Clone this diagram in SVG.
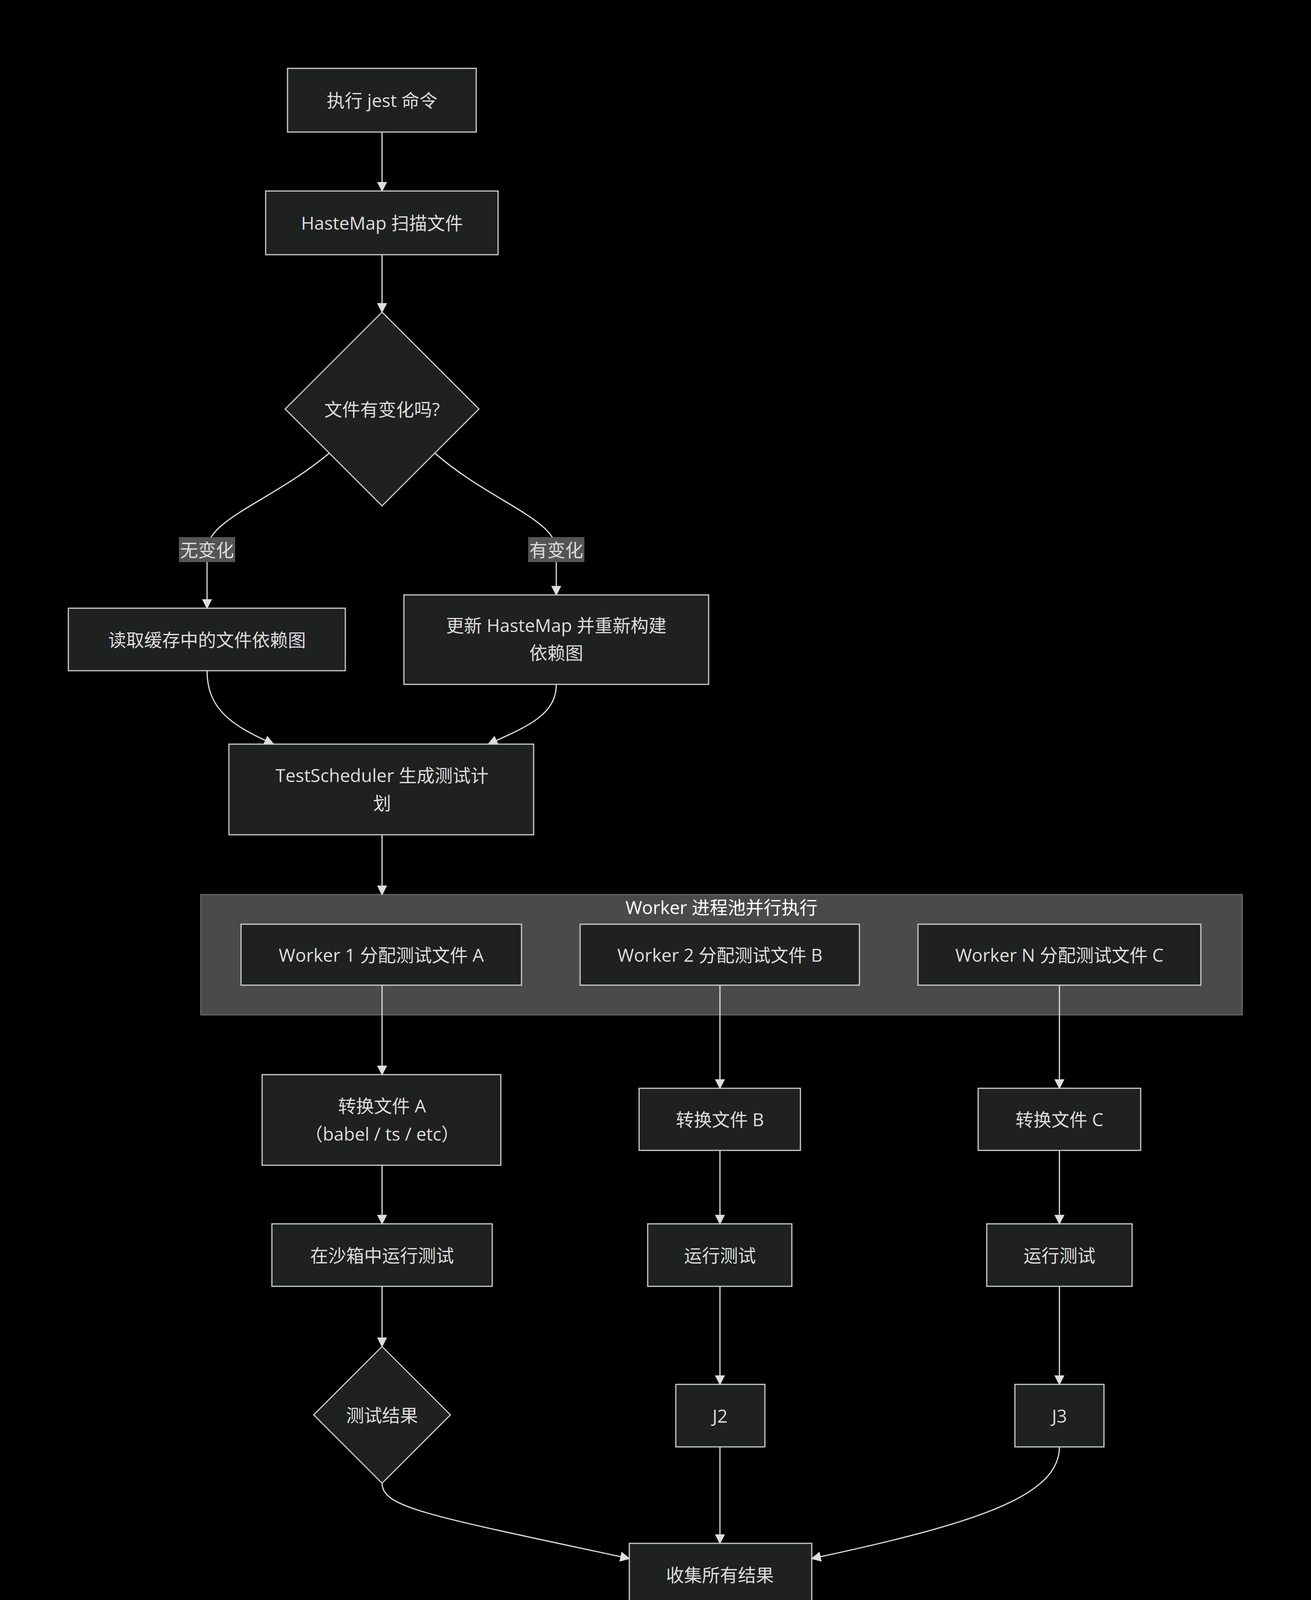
<svg xmlns="http://www.w3.org/2000/svg" width="3356" height="4913" viewBox="0 0 3356 4913">
<style>
.n{fill:#1f2020;stroke:#cccccc;stroke-width:3}
.t{fill:#dddddd;font-family:"Open Sans","Liberation Sans","Noto Sans CJK SC",sans-serif;font-size:46px;text-anchor:middle;dominant-baseline:central}
.e{fill:none;stroke:#dddddd;stroke-width:3;marker-end:url(#a)}
</style>
<defs><marker id="a" viewBox="0 0 10 10" refX="9" refY="5" markerWidth="26" markerHeight="26" markerUnits="userSpaceOnUse" orient="auto"><path d="M0,0L10,5L0,10z" fill="#dddddd"/></marker></defs>
<rect width="3356" height="4913" fill="#000"/>
<g id="cluster"><rect x="514" y="2290" width="2666" height="308" fill="#4a4a4a" stroke="#666" stroke-width="3"/><text class="t" x="1847" y="2322" style="fill:#fff">Worker 进程池并行执行</text></g>
<g id="edges">
<path class="e" d="M978,338V489"/>
<path class="e" d="M978,652V799"/>
<path class="e" d="M843,1160C700,1280 530,1330 530,1407V1557"/>
<path class="e" d="M1113,1160C1250,1280 1424,1330 1424,1407V1523"/>
<path class="e" d="M530,1717C530,1820 600,1860 700,1905"/>
<path class="e" d="M1424,1752C1424,1830 1350,1860 1250,1905"/>
<path class="e" d="M978,2137V2290"/>
<path class="e" d="M978,2522V2751"/>
<path class="e" d="M1843,2522V2786"/>
<path class="e" d="M2712,2522V2786"/>
<path class="e" d="M978,2983V3133"/>
<path class="e" d="M1843,2945V3133"/>
<path class="e" d="M2712,2945V3133"/>
<path class="e" d="M978,3293V3447"/>
<path class="e" d="M1843,3293V3544"/>
<path class="e" d="M2712,3293V3544"/>
<path class="e" d="M978,3797C978,3860 1100,3880 1611,3990"/>
<path class="e" d="M1843,3704V3951"/>
<path class="e" d="M2712,3704C2712,3830 2500,3900 2078,3990"/>
<path class="e" d="M1843,4111V4262"/>
<path class="e" d="M1843,4424V4575"/>
<rect x="458" y="1375" width="144" height="64" fill="#555"/><text class="t" x="530" y="1407">无变化</text>
<rect x="1352" y="1375" width="144" height="64" fill="#555"/><text class="t" x="1424" y="1407">有变化</text>
</g>
<g id="n1"><rect class="n" x="736" y="175" width="483" height="163"/><text class="t" x="978" y="256">执行 jest 命令</text></g>
<g id="n2"><rect class="n" x="680" y="489" width="595" height="163"/><text class="t" x="978" y="570">HasteMap 扫描文件</text></g>
<g id="n3"><polygon class="n" points="978,799 1226,1047 978,1295 730,1047"/><text class="t" x="978" y="1047">文件有变化吗?</text></g>
<g id="n4"><rect class="n" x="175" y="1557" width="709" height="160"/><text class="t" x="530" y="1637">读取缓存中的文件依赖图</text></g>
<g id="n5"><rect class="n" x="1034" y="1523" width="780" height="229"/><text class="t" x="1424" y="1600">更新 HasteMap 并重新构建</text><text class="t" x="1424" y="1670">依赖图</text></g>
<g id="n6"><rect class="n" x="586" y="1905" width="780" height="232"/><text class="t" x="978" y="1984">TestScheduler 生成测试计</text><text class="t" x="978" y="2055">划</text></g>
<g id="w1"><rect class="n" x="617" y="2366" width="718" height="156"/><text class="t" x="976" y="2444">Worker 1 分配测试文件 A</text></g>
<g id="w2"><rect class="n" x="1485" y="2366" width="715" height="156"/><text class="t" x="1843" y="2444">Worker 2 分配测试文件 B</text></g>
<g id="w3"><rect class="n" x="2350" y="2366" width="724" height="156"/><text class="t" x="2712" y="2444">Worker N 分配测试文件 C</text></g>
<g id="ta"><rect class="n" x="671" y="2751" width="611" height="232"/><text class="t" x="978" y="2830">转换文件 A</text><text class="t" x="978" y="2902">（babel / ts / etc）</text></g>
<g id="tb"><rect class="n" x="1636" y="2786" width="413" height="159"/><text class="t" x="1843" y="2865">转换文件 B</text></g>
<g id="tc"><rect class="n" x="2504" y="2786" width="416" height="159"/><text class="t" x="2712" y="2865">转换文件 C</text></g>
<g id="ra"><rect class="n" x="696" y="3133" width="564" height="160"/><text class="t" x="978" y="3213">在沙箱中运行测试</text></g>
<g id="rb"><rect class="n" x="1658" y="3133" width="369" height="160"/><text class="t" x="1843" y="3213">运行测试</text></g>
<g id="rc"><rect class="n" x="2526" y="3133" width="372" height="160"/><text class="t" x="2712" y="3213">运行测试</text></g>
<g id="d2"><polygon class="n" points="978,3447 1153,3622 978,3797 803,3622"/><text class="t" x="978" y="3622">测试结果</text></g>
<g id="j2"><rect class="n" x="1730" y="3544" width="228" height="160"/><text class="t" x="1843" y="3624">J2</text></g>
<g id="j3"><rect class="n" x="2598" y="3544" width="228" height="160"/><text class="t" x="2712" y="3624">J3</text></g>
<g id="col"><rect class="n" x="1611" y="3951" width="467" height="160"/><text class="t" x="1843" y="4031">收集所有结果</text></g>
<g id="rep"><rect class="n" x="1658" y="4262" width="372" height="162"/><text class="t" x="1843" y="4343">生成报告</text></g>
<g id="out"><rect class="n" x="1535" y="4575" width="618" height="160"/><text class="t" x="1843" y="4655">输出到控制台 / 文件</text></g>
</svg>
